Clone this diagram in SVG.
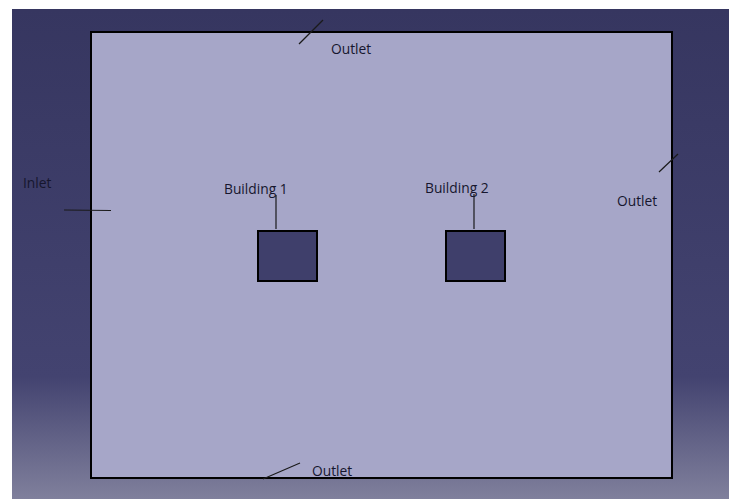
<svg xmlns="http://www.w3.org/2000/svg" width="734" height="499" viewBox="0 0 734 499">
<defs>
<linearGradient id="bg" x1="0" y1="0" x2="0" y2="1">
<stop offset="0" stop-color="#363660"/>
<stop offset="0.75" stop-color="#434370"/>
<stop offset="1" stop-color="#80809c"/>
</linearGradient>
</defs>
<style>
.lbl{font-family:"Open Sans","Noto Sans",sans-serif;font-size:13.8px;fill:#16162e}
.bld{fill:#3f3f6b;stroke:#000;stroke-width:2}
.ln{stroke:#1a1a1a;stroke-width:1.2;fill:none}
</style>
<rect x="0" y="0" width="734" height="499" fill="#ffffff"/>
<rect x="12" y="9" width="717" height="490" fill="url(#bg)"/>
<g id="domain">
<rect x="91" y="32" width="581" height="446" fill="#a6a6c8" stroke="#000" stroke-width="2"/>
</g>
<g id="connectors">
<line class="ln" x1="64" y1="210" x2="111" y2="210.5"/>
<line class="ln" x1="299" y1="44" x2="323" y2="20"/>
<line class="ln" x1="659" y1="172" x2="678" y2="154"/>
<line class="ln" x1="263" y1="479" x2="300" y2="463"/>
<line class="ln" x1="276" y1="195" x2="276" y2="229"/>
<line class="ln" x1="474" y1="194" x2="474" y2="229"/>
</g>
<g id="building1">
<rect class="bld" x="258" y="231" width="59" height="50"/>
<text class="lbl" x="224" y="194">Building 1</text>
</g>
<g id="building2">
<rect class="bld" x="446" y="231" width="59" height="50"/>
<text class="lbl" x="425" y="193">Building 2</text>
</g>
<g id="inlet">
<text class="lbl" x="23" y="188">Inlet</text>
</g>
<g id="outlet-top">
<text class="lbl" x="331" y="54">Outlet</text>
</g>
<g id="outlet-right">
<text class="lbl" x="617" y="206">Outlet</text>
</g>
<g id="outlet-bottom">
<text class="lbl" x="312" y="476">Outlet</text>
</g>
</svg>
